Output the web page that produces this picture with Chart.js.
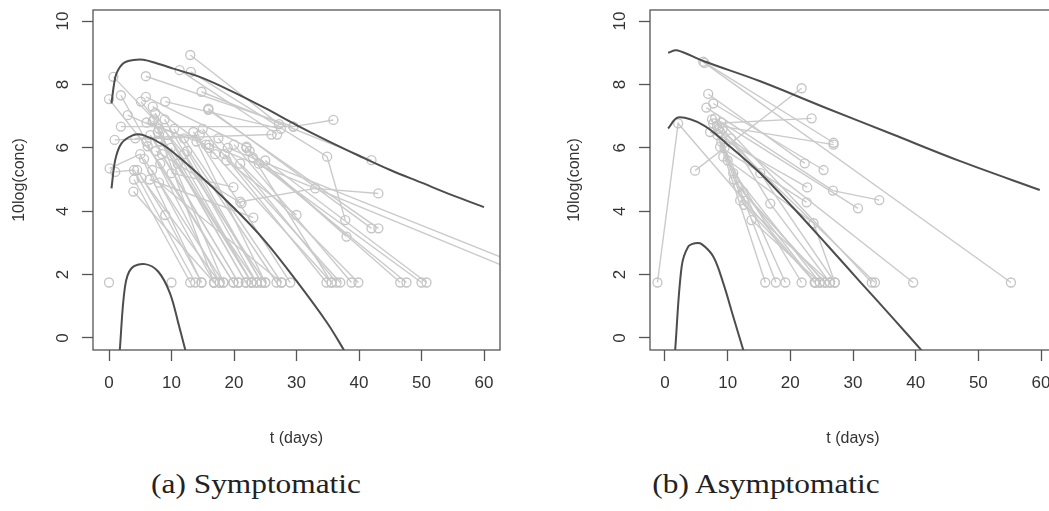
<!DOCTYPE html>
<html>
<head>
<meta charset="utf-8">
<script src="https://cdn.jsdelivr.net/npm/chart.js@4.4.1/dist/chart.umd.min.js"></script>
<style>
  body { margin: 0; background: #fff; width: 1049px; height: 511px; overflow: hidden; position: relative; }
  canvas { position: absolute; top: 0; }
  #sym { left: 0; }
  #asym { left: 560px; }
  .cap { position: absolute; top: 468px; font-family: "Liberation Serif", "Times New Roman", serif;
         font-size: 28px; color: #222; transform: translateX(-50%) scaleX(1.12); white-space: nowrap; }
</style>
</head>
<body>
<canvas id="sym" width="510" height="460"></canvas>
<canvas id="asym" width="510" height="460"></canvas>
<div class="cap" style="left:256px">(a) Symptomatic</div>
<div class="cap" style="left:766px">(b) Asymptomatic</div>

<script>
// tick labels
const xTicks = [0, 10, 20, 30, 40, 50, 60];
const yTicks = [0, 2, 4, 6, 8, 10];

// (a) symptomatic - model curves (t, 10log conc)
const symHighT = [0.4, 0.8, 1.2, 2.3, 3.9, 5.5, 7.6, 10.3, 15, 20, 25, 30, 35, 40, 45, 50, 55, 60];
const symHighV = [7.4, 8.0, 8.35, 8.67, 8.77, 8.78, 8.67, 8.5, 8.2, 7.75, 7.25, 6.72, 6.22, 5.75, 5.3, 4.9, 4.5, 4.13];
const symMidT = [0.4, 1.0, 2.0, 3.9, 5.5, 8.7, 13, 20, 25, 30, 35, 37.8];
const symMidV = [4.72, 5.62, 6.14, 6.4, 6.4, 6.09, 5.4, 4.1, 3.05, 1.8, 0.45, -0.45];
const symLowT = [1.7, 2.56, 3.6, 5.76, 7.9, 9.76, 11.1, 12.3];
const symLowV = [-0.45, 1.62, 2.2, 2.33, 2.09, 1.41, 0.46, -0.45];

// (a) symptomatic - individual measurements [t, 10log conc]
const symTraj = [
  [[0.0, 1.75]],
  [[10.0, 1.75]],
  [[13.0, 8.93], [27.2, 6.75]],
  [[0.7, 8.24], [7.2, 6.9], [16.8, 1.75]],
  [[5.9, 8.26], [29.5, 6.67], [35.9, 6.88]],
  [[13.1, 8.4], [34.9, 5.72], [37.8, 3.72]],
  [[11.3, 8.45], [26.9, 6.42]],
  [[14.8, 7.77], [42.0, 5.61]],
  [[15.9, 7.24], [42.0, 3.46]],
  [[15.9, 7.2], [43.1, 3.46]],
  [[9.0, 7.46], [27.5, 6.6]],
  [[0.0, 7.54], [8.2, 5.5], [19.9, 1.75]],
  [[1.9, 7.66], [6.0, 6.2], [17.7, 1.75]],
  [[5.1, 7.46], [12.0, 5.8], [23.6, 1.75]],
  [[5.9, 7.61], [22.0, 6.04], [35.6, 1.75]],
  [[3.0, 7.03], [8.0, 6.6], [18.3, 1.75]],
  [[1.9, 6.67], [29.5, 6.67]],
  [[0.9, 6.25], [26.0, 6.42]],
  [[0.1, 5.35], [5.0, 5.8], [14.8, 1.75]],
  [[1.0, 5.24], [4.0, 5.3], [13.8, 1.75]],
  [[3.9, 4.62], [16.8, 1.75]],
  [[4.0, 5.0], [13.0, 1.75]],
  [[4.5, 5.3], [9.0, 3.88], [14.8, 1.75]],
  [[5.2, 5.05], [17.7, 1.75]],
  [[5.6, 5.65], [18.3, 1.75]],
  [[6.2, 6.05], [19.9, 1.75]],
  [[6.6, 6.4], [20.7, 1.75]],
  [[7.0, 6.85], [21.9, 1.75]],
  [[7.4, 7.1], [22.8, 1.75]],
  [[6.9, 5.3], [16.8, 1.75]],
  [[7.8, 6.5], [22.8, 1.75]],
  [[8.2, 6.2], [23.6, 1.75]],
  [[8.5, 5.8], [20.7, 1.75]],
  [[8.9, 6.9], [24.4, 1.75]],
  [[9.4, 6.4], [25.0, 1.75]],
  [[9.9, 6.0], [22.8, 1.75]],
  [[10.4, 6.6], [26.8, 1.75]],
  [[11.0, 5.5], [21.9, 1.75]],
  [[12.0, 6.3], [27.6, 1.75]],
  [[12.5, 5.9], [24.4, 1.75]],
  [[13.5, 6.5], [29.0, 1.75]],
  [[14.0, 6.2], [25.0, 1.75]],
  [[15.0, 6.6], [34.8, 1.75]],
  [[16.0, 6.0], [35.6, 1.75]],
  [[17.5, 6.3], [36.4, 1.75]],
  [[18.5, 5.8], [37.0, 1.75]],
  [[20.0, 6.1], [38.8, 1.75]],
  [[21.0, 5.5], [39.9, 1.75]],
  [[22.0, 6.0], [46.6, 1.75]],
  [[23.0, 5.7], [47.6, 1.75]],
  [[24.0, 5.5], [50.0, 1.75]],
  [[25.0, 5.6], [50.8, 1.75]],
  [[16.0, 6.1], [64.0, 2.2]],
  [[19.0, 6.0], [64.0, 2.45]],
  [[21.0, 4.3], [33.0, 4.72], [43.1, 4.56]],
  [[22.5, 5.9], [38.0, 3.2]],
  [[18.8, 5.6], [30.0, 3.88]],
  [[10.0, 5.2], [19.9, 4.76]],
  [[6.5, 5.0], [23.1, 3.8]],
  [[7.5, 5.9], [21.2, 4.25]],
  [[8.0, 4.9], [27.6, 1.75]],
  [[4.2, 6.3], [14.5, 6.4]],
  [[6.0, 6.8], [15.5, 6.1]],
  [[7.0, 7.3], [17.0, 5.8]]
];

// (b) asymptomatic - model curves
const asymHighT = [0.5, 1.9, 6.1, 15.2, 25.8, 36.4, 47.1, 59.8];
const asymHighV = [9.0, 9.08, 8.74, 8.1, 7.25, 6.42, 5.58, 4.67];
const asymMidT = [0.5, 2.1, 6.1, 9.8, 15.2, 20.5, 25.8, 31.1, 36.4, 41.2];
const asymMidV = [6.61, 6.96, 6.72, 6.14, 5.2, 4.1, 2.95, 1.78, 0.62, -0.45];
const asymLowT = [1.6, 2.66, 3.7, 4.8, 5.8, 7.7, 9.3, 10.9, 12.6];
const asymLowV = [-0.45, 2.25, 2.88, 2.99, 2.97, 2.57, 1.73, 0.67, -0.45];

// (b) asymptomatic - individual measurements
const asymTraj = [
  [[-1.2, 1.75], [2.1, 6.77], [23.9, 1.75]],
  [[6.1, 8.72], [26.9, 6.16]],
  [[6.3, 8.68], [55.2, 1.75]],
  [[4.8, 5.28], [21.8, 7.88]],
  [[7.7, 6.77], [23.4, 6.93]],
  [[8.3, 6.7], [26.9, 6.1]],
  [[6.9, 7.7], [22.3, 5.51]],
  [[7.7, 7.4], [25.3, 5.3]],
  [[6.6, 7.27], [26.8, 4.65], [34.2, 4.35]],
  [[8.0, 6.93], [30.8, 4.09]],
  [[7.2, 6.5], [22.7, 4.75]],
  [[8.5, 6.6], [39.6, 1.75]],
  [[9.0, 6.8], [33.0, 1.75]],
  [[8.8, 6.5], [33.5, 1.75]],
  [[8.8, 6.03], [22.6, 4.28]],
  [[9.3, 5.72], [23.7, 3.62], [27.1, 1.75]],
  [[8.4, 6.4], [16.0, 1.75]],
  [[9.0, 6.2], [17.7, 1.75]],
  [[9.5, 6.0], [19.2, 1.75]],
  [[10.0, 5.6], [21.8, 1.75]],
  [[10.9, 5.2], [24.7, 1.75]],
  [[11.7, 4.77], [25.5, 1.75]],
  [[12.0, 4.34], [26.3, 1.75]],
  [[13.8, 3.72], [24.7, 1.75]],
  [[9.2, 6.6], [15.2, 5.2], [27.1, 1.75]],
  [[10.5, 6.3], [16.8, 4.24], [26.3, 1.75]],
  [[11.0, 5.0], [23.9, 1.75]],
  [[12.5, 4.6], [25.5, 1.75]],
  [[7.5, 6.9], [12.6, 4.2], [24.0, 1.75]]
];

const FONT = '"Liberation Sans", Arial, sans-serif';
Chart.defaults.font.family = FONT;

function curve(ts, vs) {
  return {
    data: ts.map((t, i) => ({ x: t, y: vs[i] })),
    showLine: true,
    borderColor: '#4d4d4d',
    borderWidth: 2,
    pointRadius: 0,
    tension: 0.35
  };
}

function traj(points) {
  return {
    data: points.map(p => ({ x: p[0], y: p[1] })),
    showLine: true,
    borderColor: '#cacaca',
    borderWidth: 1.4,
    pointRadius: 4.5,
    pointBorderWidth: 1.3,
    pointBorderColor: '#c4c4c4',
    pointBackgroundColor: 'rgba(0,0,0,0)'
  };
}

// box around the plot and rotated y tick labels, R style
const frame = {
  id: 'frame',
  afterDraw(chart) {
    const { ctx, chartArea: a, scales: { y } } = chart;
    ctx.save();
    ctx.strokeStyle = '#555';
    ctx.lineWidth = 1.3;
    ctx.strokeRect(a.left, a.top, a.right - a.left, a.bottom - a.top);
    ctx.fillStyle = '#333';
    ctx.font = '17px ' + FONT;
    ctx.textAlign = 'center';
    ctx.textBaseline = 'middle';
    yTicks.forEach(v => {
      ctx.save();
      ctx.translate(a.left - 30, y.getPixelForValue(v));
      ctx.rotate(-Math.PI / 2);
      ctx.fillText(String(v), 0, 0);
      ctx.restore();
    });
    ctx.restore();
  }
};

function makeChart(id, curves, trajs, xmin, xmax, yWidth, titlePad, padRight) {
  const tickGrid = { drawOnChartArea: false, drawTicks: true, tickLength: 11, tickWidth: 1.3, tickColor: '#555' };
  return new Chart(document.getElementById(id), {
    type: 'scatter',
    data: { datasets: curves.concat(trajs.map(traj)) },
    options: {
      responsive: false,
      animation: false,
      layout: { padding: { top: 10, right: padRight, left: 0, bottom: 0 } },
      plugins: { legend: { display: false }, tooltip: { enabled: false } },
      scales: {
        x: {
          type: 'linear', min: xmin, max: xmax,
          afterBuildTicks: s => { s.ticks = xTicks.map(v => ({ value: v })); },
          afterFit: s => { s.height = 110; },
          grid: tickGrid,
          border: { display: false },
          ticks: { color: '#333', font: { size: 17 }, padding: 12, maxRotation: 0, autoSkip: false },
          title: { display: true, text: 't (days)', color: '#333', font: { size: 16 }, padding: { top: 0, bottom: 12 } }
        },
        y: {
          type: 'linear', min: -0.38, max: 10.35,
          afterBuildTicks: s => { s.ticks = yTicks.map(v => ({ value: v })); },
          afterFit: s => { s.width = yWidth; },
          grid: tickGrid,
          border: { display: false },
          ticks: { display: false },
          title: { display: true, text: '10log(conc)', color: '#333', font: { size: 16 }, padding: { top: titlePad, bottom: 0 } }
        }
      }
    },
    plugins: [frame]
  });
}

makeChart('sym',
  [curve(symHighT, symHighV), curve(symMidT, symMidV), curve(symLowT, symLowV)],
  symTraj, -2.56, 62.56, 93, 10, 10);

makeChart('asym',
  [curve(asymHighT, asymHighV), curve(asymMidT, asymMidV), curve(asymLowT, asymLowV)],
  asymTraj, -2.39, 62.39, 90, 5, 14);
</script>
</body>
</html>
